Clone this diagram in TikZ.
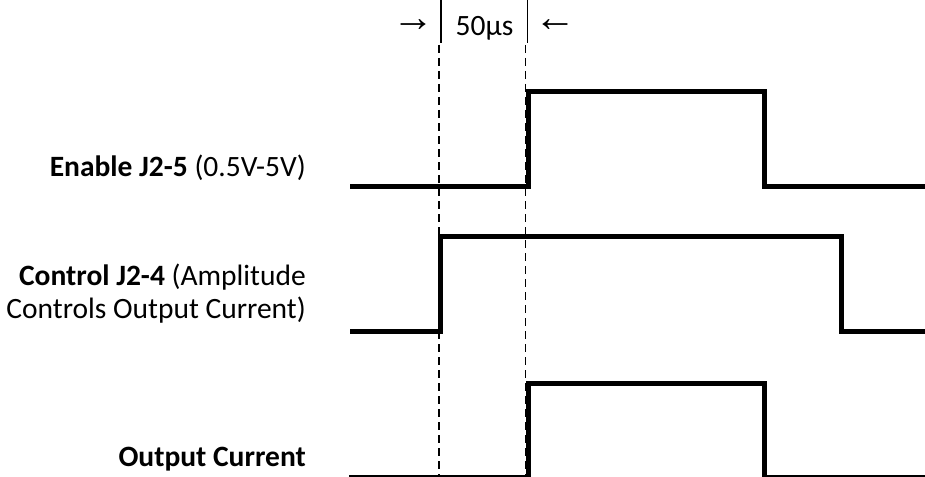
\documentclass[tikz,border=0pt]{standalone}
\usepackage{fontspec}
\setmainfont{Carlito}
\newfontfamily\arrowfont{Liberation Sans}
\usepackage{tikz}
\usetikzlibrary{positioning, calc}

\begin{document}
\begin{tikzpicture}[
	  x=1pt, y=-1pt,
	  font=\fontsize{29.5}{33}\selectfont,
	  signal/.style={line width=5pt, miter limit=2},
	  guide/.style={line width=1.6pt, dash pattern=on 8pt off 5pt},
	  marker/.style={line width=1.8pt},
	  sigtext/.style={anchor=base east, inner sep=0pt, align=right},
	  toptext/.style={font=\fontsize{29.5}{33}\selectfont, inner sep=0pt},
	  arrowtext/.style={font=\arrowfont\fontsize{42}{44}\selectfont, inner sep=0pt}
	]
	\useasboundingbox (0,0) rectangle (925,476);

	% --- 50us window at the top ---
	\draw[marker] (441,0) -- (441,43);
	\draw[marker] (527.5,0) -- (527.5,43);
	\node[toptext, anchor=base] (width) at (484.5,35.5) {50µs};
	\node[arrowtext] (rarrow) at (413,26) {→};
	\node[arrowtext] (larrow) at (555,26) {←};

	% --- guide lines ---
	\draw[guide] (439,45) -- (439,476);
	\draw[guide] (525.5,45) -- (525.5,476);

	% --- Labels ---
	\node[sigtext] (enable) at (306,176) {\textbf{Enable J2-5} (0.5V-5V)};
	\node[sigtext] (control) at (306,285) {\textbf{Control J2-4} (Amplitude};
	\node[sigtext, below=0pt of control.base east, anchor=base east, yshift=-33pt] (control2) {Controls Output Current)};
	\node[sigtext] (output) at (306,466) {\textbf{Output Current}};

	% --- Waveforms ---
	\draw[signal] (350,186.5) -- (528.5,186.5) -- (528.5,92) -- (764,92) -- (764,186.5) -- (925,186.5);
	\draw[signal] (350,331.5) -- (440.5,331.5) -- (440.5,236.5) -- (841,236.5) -- (841,331.5) -- (925,331.5);
	\draw[signal] (349,477) -- (528,477) -- (528,383) -- (764,383) -- (764,477) -- (925,477);

\end{tikzpicture}
\end{document}
